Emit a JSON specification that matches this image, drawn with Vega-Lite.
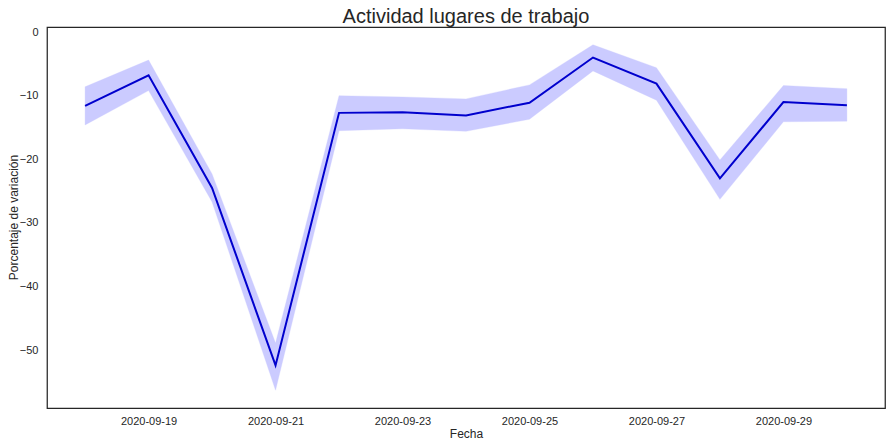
{
  "$schema": "https://vega.github.io/schema/vega-lite/v6.json",
  "width": 838,
  "height": 381,
  "autosize": "none",
  "padding": {"left": 47, "top": 27, "right": 6, "bottom": 38},
  "background": "white",
  "config": {
    "font": "Liberation Sans",
    "view": {"stroke": "#262626", "strokeWidth": 1.25},
    "axis": {"grid": false, "domain": false, "ticks": false, "labelColor": "#262626", "titleColor": "#262626", "labelFontSize": 11, "titleFontSize": 12, "titleFontWeight": "normal"}
  },
  "title": {"text": "Actividad lugares de trabajo", "fontSize": 20, "fontWeight": "normal", "color": "#262626", "anchor": "middle", "offset": -1},
  "data": {"values": [
    {"fecha": "2020-09-18T00:00:00", "v": -11.6, "lo": -14.6, "hi": -8.6},
    {"fecha": "2020-09-19T00:00:00", "v": -6.8, "lo": -9.2, "hi": -4.4},
    {"fecha": "2020-09-20T00:00:00", "v": -24.5, "lo": -26.7, "hi": -22.3},
    {"fecha": "2020-09-21T00:00:00", "v": -52.4, "lo": -56.3, "hi": -48.9},
    {"fecha": "2020-09-22T00:00:00", "v": -12.7, "lo": -15.5, "hi": -10.0},
    {"fecha": "2020-09-23T00:00:00", "v": -12.6, "lo": -15.2, "hi": -10.2},
    {"fecha": "2020-09-24T00:00:00", "v": -13.1, "lo": -15.6, "hi": -10.5},
    {"fecha": "2020-09-25T00:00:00", "v": -11.1, "lo": -13.7, "hi": -8.3},
    {"fecha": "2020-09-26T00:00:00", "v": -4.0, "lo": -6.1, "hi": -2.0},
    {"fecha": "2020-09-27T00:00:00", "v": -8.1, "lo": -10.7, "hi": -5.6},
    {"fecha": "2020-09-28T00:00:00", "v": -23.0, "lo": -26.3, "hi": -20.1},
    {"fecha": "2020-09-29T00:00:00", "v": -11.0, "lo": -14.1, "hi": -8.4},
    {"fecha": "2020-09-30T00:00:00", "v": -11.5, "lo": -14.0, "hi": -8.9}
  ]},
  "encoding": {
    "x": {
      "field": "fecha", "type": "temporal",
      "scale": {"domain": [{"year": 2020, "month": 9, "date": 17, "hours": 9, "minutes": 36}, {"year": 2020, "month": 9, "date": 30, "hours": 14, "minutes": 24}], "nice": false},
      "axis": {"title": "Fecha", "format": "%Y-%m-%d", "labelPadding": 7, "titlePadding": 2,
        "values": [
          {"year": 2020, "month": 9, "date": 19},
          {"year": 2020, "month": 9, "date": 21},
          {"year": 2020, "month": 9, "date": 23},
          {"year": 2020, "month": 9, "date": 25},
          {"year": 2020, "month": 9, "date": 27},
          {"year": 2020, "month": 9, "date": 29}
        ]}
    }
  },
  "layer": [
    {
      "mark": {"type": "area", "color": "#0000ff", "opacity": 0.2, "stroke": "#0000ff", "strokeOpacity": 0.3, "strokeWidth": 1},
      "encoding": {
        "y": {"field": "lo", "type": "quantitative", "scale": {"domain": [-59.1, 0.8], "nice": false, "zero": false},
          "axis": {"title": "Porcentaje de variación", "values": [-50, -40, -30, -20, -10, 0], "labelPadding": 9,
            "titleX": -34, "titleY": 190, "titleAngle": 270, "titleAlign": "center", "titleBaseline": "middle"}},
        "y2": {"field": "hi"}
      }
    },
    {
      "mark": {"type": "line", "color": "#0000cd", "strokeWidth": 2},
      "encoding": {
        "y": {"field": "v", "type": "quantitative"}
      }
    }
  ]
}
